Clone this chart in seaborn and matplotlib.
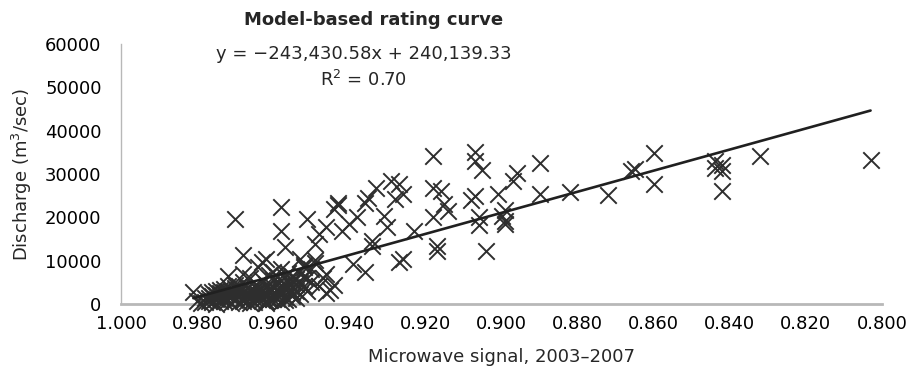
import matplotlib
matplotlib.use("Agg")
import matplotlib.pyplot as plt
import seaborn as sns
import numpy as np
import pandas as pd

# ---- data ----
signal_sparse = [0.918, 0.907, 0.907, 0.905, 0.890, 0.896, 0.897, 0.860, 0.832, 0.803,
                 0.844, 0.842, 0.844, 0.842, 0.842, 0.860, 0.865, 0.866, 0.872, 0.882,
                 0.890, 0.901, 0.899, 0.899, 0.899, 0.900, 0.904, 0.907, 0.908, 0.906,
                 0.906, 0.918, 0.916, 0.918, 0.915, 0.914, 0.917, 0.917, 0.923, 0.927,
                 0.929, 0.926, 0.928, 0.927, 0.926, 0.933, 0.935, 0.936, 0.931, 0.930,
                 0.934, 0.934, 0.938, 0.940, 0.942, 0.943, 0.944, 0.943, 0.946, 0.948,
                 0.951, 0.949, 0.958, 0.958, 0.957, 0.970, 0.968, 0.936, 0.939, 0.945,
                 0.944, 0.946, 0.981, 0.962, 0.949, 0.952, 0.954]
discharge_sparse = [34100, 35000, 33100, 31000, 32500, 30300, 28400, 34800, 34200, 33300,
                    32900, 32200, 31400, 30600, 26200, 27600, 31200, 30600, 25200, 25900,
                    25300, 25300, 21600, 19200, 18400, 20400, 12200, 24900, 23900, 20100,
                    18300, 26700, 26100, 20000, 23000, 21500, 13500, 12300, 16900, 27700,
                    28400, 25500, 24200, 9700, 10400, 26800, 24500, 23400, 20400, 17700,
                    14600, 13300, 20000, 18400, 16900, 22900, 21900, 23400, 17700, 16200,
                    19600, 13900, 22300, 16900, 13100, 19700, 11200, 7400, 9300, 3200,
                    4400, 7000, 2800, 10400, 10100, 8500, 4700]

signal_dense = [0.978, 0.977, 0.977, 0.976, 0.976, 0.975, 0.975, 0.974, 0.974, 0.973,
                0.973, 0.972, 0.972, 0.972, 0.971, 0.971, 0.971, 0.970, 0.970, 0.970,
                0.969, 0.969, 0.969, 0.968, 0.968, 0.968, 0.967, 0.967, 0.967, 0.966,
                0.966, 0.966, 0.965, 0.965, 0.965, 0.964, 0.964, 0.964, 0.963, 0.963,
                0.963, 0.962, 0.962, 0.962, 0.961, 0.961, 0.961, 0.960, 0.960, 0.960,
                0.959, 0.959, 0.959, 0.958, 0.958, 0.958, 0.957, 0.957, 0.957, 0.956,
                0.956, 0.956, 0.955, 0.955, 0.955, 0.954, 0.954, 0.953, 0.953, 0.952,
                0.952, 0.951, 0.951, 0.950, 0.950, 0.948, 0.947, 0.946, 0.949, 0.953,
                0.980, 0.979, 0.975, 0.966, 0.962, 0.958, 0.972, 0.968, 0.963,
                0.977, 0.976, 0.974, 0.973, 0.972, 0.971, 0.970, 0.969, 0.968, 0.967,
                0.966, 0.965, 0.964, 0.963, 0.962, 0.961, 0.960, 0.959, 0.958, 0.957,
                0.956, 0.955, 0.954, 0.953, 0.978, 0.975, 0.973, 0.970, 0.967, 0.964,
                0.961, 0.959, 0.957, 0.955, 0.974, 0.969, 0.965, 0.960, 0.956, 0.952]
discharge_dense = [1500, 800, 2200, 500, 1800, 1200, 3000, 600, 2500, 1500,
                   3500, 900, 2200, 4200, 300, 1700, 3100, 1000, 2600, 4500,
                   400, 1900, 3300, 1200, 2800, 5000, 700, 2100, 3800, 1500,
                   3000, 6000, 500, 2400, 4200, 1100, 3300, 8500, 1800, 2900,
                   5500, 800, 2600, 4600, 1400, 3600, 6800, 2000, 4000, 7500,
                   1200, 3000, 5200, 2500, 4400, 8000, 1600, 3500, 6200, 2800,
                   5000, 7200, 1900, 4000, 6500, 3000, 5800, 2200, 7000, 4200,
                   9000, 3000, 6000, 5000, 8000, 4200, 6000, 2500, 9500, 10500,
                   800, 200, 100, 200, 300, 500, 6500, 7000, 9800,
                   1300, 2700, 1900, 600, 3000, 2300, 1400, 2700, 600, 1700,
                   2400, 1400, 2000, 900, 3900, 2500, 1200, 2100, 3300, 4700,
                   3800, 2700, 1500, 4800, 400, 2000, 2800, 3600, 2600, 4000,
                   900, 6200, 900, 5400, 3200, 4100, 3200, 5600, 1100, 6300]

SLOPE = -243430.58
INTERCEPT = 240139.33
R2 = 0.70

x_ticks = [1.000, 0.980, 0.960, 0.940, 0.920, 0.900, 0.880, 0.860, 0.840, 0.820, 0.800]
y_ticks = [0, 10000, 20000, 30000, 40000, 50000, 60000]

# ---- build frames ----
df = pd.DataFrame({
    "signal": signal_dense + signal_sparse,
    "discharge": discharge_dense + discharge_sparse,
})
xmin, xmax = min(df["signal"]), max(df["signal"])
line_df = pd.DataFrame({"signal": [xmin, xmax]})
line_df["discharge"] = SLOPE * line_df["signal"] + INTERCEPT

sns.set_theme(style="white")
plt.rcParams["font.family"] = ["DejaVu Sans"]

fig = plt.figure(figsize=(9.06, 3.77), dpi=100)
ax = fig.add_axes([0.1336, 0.1936, 0.8399, 0.6894])

sns.scatterplot(data=df, x="signal", y="discharge", ax=ax, marker="x",
                s=140, color="#2e2e2e", linewidth=1.4, clip_on=False, zorder=3)
sns.lineplot(data=line_df, x="signal", y="discharge", ax=ax,
             color="#202020", linewidth=1.9, zorder=4)

ax.set_xlim(1.000, 0.800)
ax.set_ylim(0, 60000)
ax.set_xticks(x_ticks)
ax.set_xticklabels([f"{t:.3f}" for t in x_ticks], fontsize=13)
ax.set_yticks(y_ticks)
ax.set_yticklabels([str(t) for t in y_ticks], fontsize=13)

for s in ["top", "right"]:
    ax.spines[s].set_visible(False)
ax.spines["left"].set_color("#b8b8b8")
ax.spines["bottom"].set_color("#b8b8b8")
ax.spines["bottom"].set_linewidth(2.0)
ax.spines["left"].set_linewidth(1.0)
ax.tick_params(axis="y", which="major", direction="out", length=6, width=1,
               color="#b8b8b8", pad=8, labelcolor="black")
ax.tick_params(axis="x", which="major", direction="out", length=3, width=1,
               color="#b8b8b8", pad=5, labelcolor="black")

ax.set_xlabel("Microwave signal, 2003\u20132007", fontsize=13, labelpad=11)
ax.set_ylabel("Discharge (m$^3$/sec)", fontsize=13, labelpad=8)

fig.text(374 / 906, 1 - 25 / 377, "Model-based rating curve", ha="center", va="baseline",
         fontsize=13, fontweight="bold")
fig.text(364 / 906, 1 - 59 / 377, "y = \u2212243,430.58x + 240,139.33",
         ha="center", va="baseline", fontsize=13)
fig.text(364 / 906, 1 - 86 / 377, f"R$^2$ = {R2:.2f}", ha="center", va="baseline",
         fontsize=13)

fig.savefig("out.png", dpi=100)
